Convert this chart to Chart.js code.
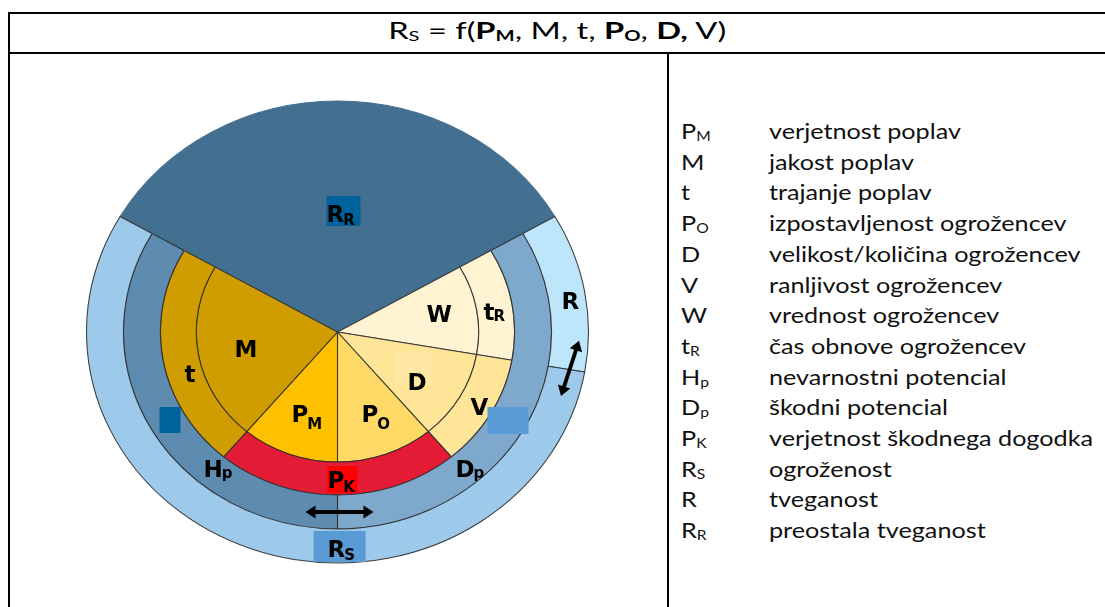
<!DOCTYPE html>
<html><head><meta charset="utf-8">
<script src="https://cdn.jsdelivr.net/npm/chart.js@4/dist/chart.umd.min.js"></script>
<style>
html,body{margin:0;padding:0;background:#fff;width:1105px;height:607px;overflow:hidden;position:relative;}
#frame{position:absolute;left:8px;top:12px;width:1200px;height:700px;border-left:2px solid #000;border-top:2px solid #000;}
#titleline{position:absolute;left:8px;top:52px;width:1100px;height:2px;background:#000;}
#sep{position:absolute;left:667px;top:53px;width:2px;height:560px;background:#000;}
#titlebox{position:absolute;left:0;width:1115px;top:15px;text-align:center;}
#title{display:inline-block;line-height:30px;font-family:Lato,sans-serif;font-size:23px;color:#000;white-space:nowrap;transform-origin:50% 50%;}
#wrap{position:absolute;left:67px;top:92px;width:541px;height:480px;}
.row{position:absolute;font-family:Lato,sans-serif;font-size:21px;line-height:26px;color:#111;white-space:nowrap;transform-origin:0 50%;}
.sb{font-size:62%;position:relative;top:2px;}
b .sb{font-weight:bold;}
</style></head>
<body>
<div id="frame"></div>
<div id="titleline"></div>
<div id="sep"></div>
<div id="titlebox"><span id="title">R<span class="sb">S</span> = f(<b>P<span class="sb">M</span></b>, M, t, <b>P<span class="sb">O</span></b>, <b>D,</b> V)</span></div>
<div id="wrap"><canvas id="c"></canvas></div>
<div id="legend"></div>
<script>
// ---- data (angles in degrees, clockwise from the left edge of R_R) ----
const outerNames = ['R_R', 'R', 'R_S'];
const outerDeg   = [120, 40, 200];
const ring2Names = ['R_R', 'D_p', 'H_p'];
const ring2Deg   = [120, 120, 120];
const ring3Names = ['R_R', 't_R', 'V', 'P_K', 't'];
const ring3Deg   = [120, 40, 40, 80, 80];
const innerNames = ['R_R', 'W', 'D', 'P_O', 'P_M', 'M'];
const innerDeg   = [120, 40, 40, 40, 40, 80];

const legendSymbols = [['P','M'],['M',''],['t',''],['P','O'],['D',''],['V',''],['W',''],['t','R'],['H','p'],['D','p'],['P','K'],['R','S'],['R',''],['R','R']];
const legendTexts = ['verjetnost poplav','jakost poplav','trajanje poplav','izpostavljenost ogrožencev','velikost/količina ogrožencev','ranljivost ogrožencev','vrednost ogrožencev','čas obnove ogrožencev','nevarnostni potencial','škodni potencial','verjetnost škodnega dogodka','ogroženost','tveganost','preostala tveganost'];

// ---- styles / layout ----
const fill = {
  R_R:'#436F91', R:'#BDE6FB', R_S:'#9DC9EB', D_p:'#7EA9CD', H_p:'#5E8BB0',
  t_R:'#FFF3D1', V:'#FFE597', P_K:'#E31B35', t:'#D09D00',
  W:'#FFF3D1', D:'#FFE597', P_O:'#FFD966', P_M:'#FFC000', M:'#D09D00'
};
const ringWeights = [34, 34, 33, 130];
const SX = 251 / 231;
const lineCol = 'rgba(45,45,45,0.9)';
const TITLE_W = 338, LEGEND_W = 324;

const legend = document.getElementById('legend');
const descEls = [], symEls = [];
legendSymbols.forEach((s, i) => {
  const top = 118 + i * 30.7;
  const a = document.createElement('div');
  a.className = 'row'; a.style.left = '681px'; a.style.top = top + 'px';
  a.innerHTML = s[0] + (s[1] ? '<span class="sb">' + s[1] + '</span>' : '');
  const b = document.createElement('div');
  b.className = 'row'; b.style.left = '769px'; b.style.top = top + 'px';
  b.textContent = legendTexts[i];
  legend.appendChild(a); legend.appendChild(b);
  symEls.push(a); descEls.push(b);
});

function fitText() {
  const t = document.getElementById('title');
  t.style.transform = 'none';
  const tw = t.getBoundingClientRect().width;
  t.style.transform = 'scaleX(' + (TITLE_W / tw) + ')';
  const longest = descEls[10];
  longest.style.transform = 'none';
  const lw = longest.getBoundingClientRect().width;
  const s = LEGEND_W / lw;
  descEls.concat(symEls).forEach(e => e.style.transform = 'scaleX(' + s + ')');
}
fitText();
if (document.fonts && document.fonts.ready) document.fonts.ready.then(fitText);

function mkSet(names, deg, w) {
  return {
    data: deg,
    labels: names,
    weight: w,
    clip: false,
    backgroundColor: names.map(n => fill[n]),
    borderColor: names.map(n => n === 'R_R' ? fill[n] : lineCol),
    borderWidth: 1
  };
}

const labelPos = {
  R_R:[-11,-110,3], M:[-103,25,0], t:[-153,50,0], W:[89,-10,0], t_R:[146,-12,1], R:[224,-23,0],
  D:[70,58,0], V:[133,83,0], P_M:[-46,90,7], P_O:[24,90,7], H_p:[-134,145,1], P_K:[-10,156,4],
  D_p:[118,145,1], R_S:[-10,225,3]
};
const boxes = [
  [-11,-136,34,30,'#00629B'], [-10,134,30,27,'#FF0000'], [-24,199,52,31,'#5B9BD5'],
  [-178,75,21,26,'#00629B'], [150,75,41,27,'#5B9BD5'], [58,21,38,32,'#FFE8A4']
];
const arrows = [[-32,180,36,180], [241.5,8.7,223.5,64]];

const stretch = {
  id: 'stretch',
  beforeDatasetsDraw(chart) {
    const a = chart.getDatasetMeta(0).data[0];
    const ctx = chart.ctx;
    ctx.save();
    ctx.translate(a.x, a.y); ctx.scale(SX, 1); ctx.translate(-a.x, -a.y);
  },
  afterDatasetsDraw(chart) { chart.ctx.restore(); }
};

function arrow(ctx, x1, y1, x2, y2) {
  const ang = Math.atan2(y2 - y1, x2 - x1);
  const L = Math.hypot(x2 - x1, y2 - y1);
  ctx.save();
  ctx.translate(x1, y1); ctx.rotate(ang);
  ctx.fillStyle = '#000'; ctx.strokeStyle = '#000'; ctx.lineWidth = 3.8;
  ctx.beginPath(); ctx.moveTo(8, 0); ctx.lineTo(L - 8, 0); ctx.stroke();
  ctx.beginPath(); ctx.moveTo(0, 0); ctx.lineTo(10, -6.5); ctx.lineTo(10, 6.5); ctx.closePath(); ctx.fill();
  ctx.beginPath(); ctx.moveTo(L, 0); ctx.lineTo(L - 10, -6.5); ctx.lineTo(L - 10, 6.5); ctx.closePath(); ctx.fill();
  ctx.restore();
}

const overlay = {
  id: 'overlay',
  afterDraw(chart) {
    const a = chart.getDatasetMeta(0).data[0];
    const cx = a.x, cy = a.y, ctx = chart.ctx;
    ctx.save();
    boxes.forEach(b => { ctx.fillStyle = b[4]; ctx.fillRect(cx + b[0], cy + b[1], b[2], b[3]); });
    arrows.forEach(r => arrow(ctx, cx + r[0], cy + r[1], cx + r[2], cy + r[3]));
    ctx.fillStyle = '#000'; ctx.textBaseline = 'alphabetic'; ctx.textAlign = 'left';
    Object.keys(labelPos).forEach(k => {
      const [main, sub] = k.split('_');
      const p = labelPos[k];
      const x = cx + p[0], y = cy + p[1];
      ctx.font = 'bold 23px "DejaVu Sans"';
      ctx.fillText(main, x, y);
      if (sub) {
        const w = ctx.measureText(main).width;
        ctx.font = 'bold 15px "DejaVu Sans"';
        ctx.fillText(sub, x + w - 1, y + p[2]);
      }
    });
    ctx.restore();
  }
};

new Chart(document.getElementById('c'), {
  type: 'doughnut',
  data: {
    labels: outerNames,
    datasets: [
      mkSet(outerNames, outerDeg, ringWeights[0]),
      mkSet(ring2Names, ring2Deg, ringWeights[1]),
      mkSet(ring3Names, ring3Deg, ringWeights[2]),
      mkSet(innerNames, innerDeg, ringWeights[3])
    ]
  },
  options: {
    responsive: true,
    maintainAspectRatio: false,
    animation: false,
    rotation: -60,
    cutout: 0,
    radius: 231,
    layout: { padding: { left: 30, right: 30, top: 0, bottom: 0 } },
    plugins: { legend: { display: false }, tooltip: { enabled: false }, title: { display: false } },
    events: []
  },
  plugins: [stretch, overlay]
});
</script>
</body></html>
